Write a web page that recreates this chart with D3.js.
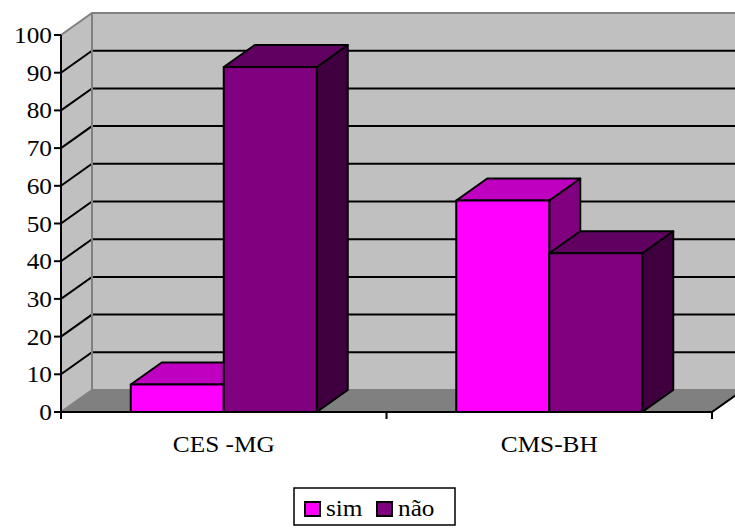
<!DOCTYPE html>
<html><head>
<meta charset="utf-8">
<script src="https://d3js.org/d3.v7.min.js"></script>
<style>
  body { margin: 0; background: #fff; }
</style>
</head>
<body>
<svg id="chart" width="735" height="528"></svg>
<script>
// data
const categories = ["CES -MG", "CMS-BH"];
const seriesNames = ["sim", "não"];
const simValues = [7.3, 56.1];
const naoValues = [91.5, 42.1];
const yTicks = [0, 10, 20, 30, 40, 50, 60, 70, 80, 90, 100];

const front = ["#ff00ff", "#800080"];
const top_ = ["#c000c0", "#600060"];
const side = ["#800080", "#400040"];

const svg = d3.select("#chart");
const dx = 31, dy = -22;   // depth of the 3d box
const stretch = 1.1;       // the fonts in the picture are a bit wide

const y = d3.scaleLinear().domain([0, 100]).range([412, 35]);
const x0 = d3.scaleBand().domain(categories).range([61, 712]);
const x1 = d3.scaleBand().domain(seriesNames).range([0, x0.bandwidth()]).paddingOuter(0.75);

const line = d3.line();

function label(x, yy, t, anchor) {
  return svg.append("text")
    .attr("transform", `translate(${x},${yy}) scale(${stretch},1)`)
    .attr("text-anchor", anchor)
    .style("font-family", "'Liberation Serif', 'Times New Roman', Times, serif")
    .style("font-size", "23px")
    .attr("fill", "#000")
    .text(t);
}

// walls + floor
svg.append("path").attr("d", line([[61, y(100)], [61+dx, y(100)+dy], [61+dx, y(0)+dy], [61, y(0)]]) + "Z")
  .attr("fill", "#c0c0c0");
svg.append("rect").attr("x", 61+dx).attr("y", y(100)+dy).attr("width", 735-61-dx).attr("height", y(0)-y(100))
  .attr("fill", "#c0c0c0");
svg.append("path").attr("d", line([[61, y(0)], [61+dx, y(0)+dy], [712+dx, y(0)+dy], [712, y(0)]]) + "Z")
  .attr("fill", "#808080");

// gridlines
const grid = svg.append("g");
yTicks.filter(t => t > 0 && t < 100).forEach(t => {
  grid.append("path").attr("d", line([[61, y(t)], [61+dx, y(t)+dy], [735, y(t)+dy]]))
    .attr("fill", "none").attr("stroke", "#000").attr("stroke-width", 2);
});

// wall edges (gray)
const edges = svg.append("g").attr("fill", "none").attr("stroke", "#808080").attr("stroke-width", 2);
edges.append("path").attr("d", line([[61, y(100)], [61+dx, y(100)+dy], [735, y(100)+dy]]));
edges.append("path").attr("d", line([[61+dx, y(100)+dy], [61+dx, y(0)+dy], [735, y(0)+dy]]));
edges.append("path").attr("d", line([[61, y(0)], [61+dx, y(0)+dy]]));

// bars, left to right
const rows = [];
categories.forEach((c, i) => {
  rows.push({cat: c, s: 0, v: simValues[i]});
  rows.push({cat: c, s: 1, v: naoValues[i]});
});
rows.forEach(d => {
  const xl = x0(d.cat) + x1(seriesNames[d.s]);
  const xr = xl + x1.bandwidth();
  const yt = y(d.v), yb = y(0);
  const g = svg.append("g").attr("stroke", "#000").attr("stroke-width", 2).attr("stroke-linejoin", "round");
  g.append("path").attr("d", line([[xr, yt], [xr+dx, yt+dy], [xr+dx, yb+dy], [xr, yb]]) + "Z").attr("fill", side[d.s]);
  g.append("path").attr("d", line([[xl, yt], [xl+dx, yt+dy], [xr+dx, yt+dy], [xr, yt]]) + "Z").attr("fill", top_[d.s]);
  g.append("rect").attr("x", xl).attr("y", yt).attr("width", xr-xl).attr("height", yb-yt).attr("fill", front[d.s]);
});

// axes
const ax = svg.append("g").attr("stroke", "#000").attr("stroke-width", 2).attr("fill", "none");
ax.append("path").attr("d", line([[61, y(100)], [61, y(0)+6]]));
ax.append("path").attr("d", line([[61, y(0)], [712, y(0)], [712+dx, y(0)+dy]]));
yTicks.forEach(t => ax.append("path").attr("d", line([[54, y(t)], [61, y(t)]])));
[61, x0(categories[1]), 712].forEach(p => ax.append("path").attr("d", line([[p, y(0)], [p, y(0)+7]])));

yTicks.forEach(t => label(52, y(t) + 8, t, "end"));
categories.forEach(c => label(x0(c) + x0.bandwidth()/2, 452, c, "middle"));

// legend
const lg = svg.append("g");
lg.append("rect").attr("x", 294).attr("y", 488).attr("width", 161).attr("height", 37)
  .attr("fill", "#fff").attr("stroke", "#000").attr("stroke-width", 1.5);
const legX = [305, 377];
seriesNames.forEach((s, i) => {
  lg.append("rect").attr("x", legX[i]).attr("y", 502).attr("width", 15).attr("height", 14)
    .attr("fill", front[i]).attr("stroke", "#000").attr("stroke-width", 2);
  label(legX[i] + 21, 516, s, "start");
});
</script>
</body>
</html>
